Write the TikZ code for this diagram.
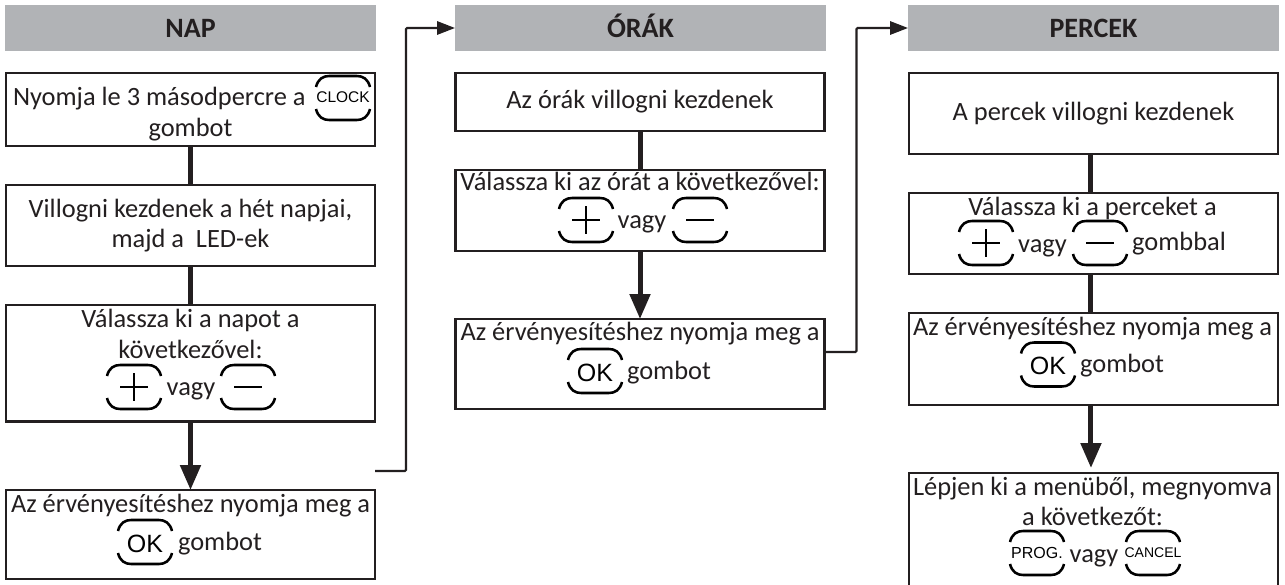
\documentclass[tikz,border=0pt]{standalone}
\usepackage{fontspec}
\setmainfont{Carlito}
\newfontfamily\arialfont{Liberation Sans}
\usetikzlibrary{arrows.meta}
\definecolor{ink}{HTML}{231F20}
\definecolor{headgrey}{HTML}{B1B3B6}
\def\px{0.75pt}
\tikzset{
  hdr/.style={fill=headgrey,draw=none,inner sep=0pt,outer sep=0pt,minimum width=371*\px,minimum height=46*\px,text height=15pt,text depth=0pt,text=ink,font=\bfseries\fontsize{21pt}{25pt}\selectfont},
  boxn/.style={draw=ink,line width=1.8pt,fill=white,inner sep=0pt,outer sep=0pt,minimum width=369*\px,text=ink,align=center,font=\fontsize{19.8pt}{22.5pt}\selectfont},
  txt/.style={inner sep=0pt,outer sep=0pt,anchor=base,text=ink,font=\fontsize{19.8pt}{24pt}\selectfont},
  keylab/.style={inner sep=0pt,outer sep=0pt,anchor=base,text=black,font=\arialfont},
  thick link/.style={draw=ink,line width=3.75pt},
  thick arrow/.style={thick link,-{Triangle[length=18.75pt,width=15pt]}},
  thin arrow/.style={draw=ink,line width=1.6pt,rounded corners=0.8pt,-{Triangle[length=13.5pt,width=10pt]}},
  pics/btn/.style={code={
    \draw[black,line width=1.9pt]
      (-27,-11) .. controls (-25,-19) and (-20,-22) .. (-14,-22) -- (14,-22) .. controls (20,-22) and (25,-19) .. (27,-11);
    \draw[black,line width=1.9pt]
      (-27,11) .. controls (-25,19) and (-20,22) .. (-14,22) -- (14,22) .. controls (20,22) and (25,19) .. (27,11);
  }},
  pics/plusbtn/.style={code={
    \pic {btn};
    \draw[black,line width=1.5pt] (-14,0) -- (14,0) (0,-14) -- (0,14);
  }},
  pics/minusbtn/.style={code={
    \pic {btn};
    \draw[black,line width=1.5pt] (-14,0) -- (14,0);
  }}
}
\begin{document}
\begin{tikzpicture}[x=0.75pt,y=-0.75pt]
\useasboundingbox (0,0) rectangle (1285,585);
\fill[white] (0,0) rectangle (1285,585);

% headers
\node[hdr] (h1) at (190.5,28) {NAP};
\node[hdr] (h2) at (640.5,28) {ÓRÁK};
\node[hdr] (h3) at (1093.5,28) {PERCEK};

% boxes
\node[boxn,minimum height=73*\px] (b1) at (190.5,109.5) {};
\node[boxn,minimum height=81*\px] (b2) at (190.5,225.5) {Villogni kezdenek a hét napjai,\\majd a\ \ LED-ek};
\node[boxn,minimum height=116.5*\px] (b3) at (190.5,363.25) {};
\node[boxn,minimum height=89*\px] (b4) at (190.5,534.5) {};

\node[boxn,minimum height=58*\px] (o1) at (640,102) {Az órák villogni kezdenek};
\node[boxn,minimum height=81*\px] (o2) at (640,210.5) {};
\node[boxn,minimum height=90*\px] (o3) at (640,364) {};

\node[boxn,minimum height=81*\px] (p1) at (1093.5,113.5) {A percek villogni kezdenek};
\node[boxn,minimum height=81*\px] (p2) at (1093.5,233.5) {};
\node[boxn,minimum height=92*\px] (p3) at (1093.5,359) {};
\node[boxn,minimum height=127*\px] (p4) at (1093.5,536.5) {};

% connectors
\draw[thick link] (b1.south) -- (b2.north);
\draw[thick link] (b2.south) -- (b3.north);
\draw[thick arrow] (b3.south) -- (b4.north);
\draw[thick link] (o1.south) -- (o2.north);
\draw[thick arrow] (o2.south) -- (o3.north);
\draw[thick link] ([xshift=-1.9pt]p1.south) -- ([xshift=-1.9pt]p2.north);
\draw[thick link] ([xshift=-1.9pt]p2.south) -- ([xshift=-1.9pt]p3.north);
\draw[thick arrow] ([xshift=-1.9pt]p3.south) -- ([xshift=-1.9pt,yshift=3.75pt]p4.north);

\coordinate (nfree) at (375,471);
\coordinate (ostart) at (825,352);
\draw[thin arrow] (nfree) -- (406,471) -- (406,28) -- (h2.west);
\draw[thin arrow] (ostart) -- (856.5,352) -- (856.5,28) -- (h3.west);

% NAP texts
\node[txt,anchor=base west] (t1) at (13,105) {Nyomja le 3 másodpercre a};
\pic at (343,98) {btn};
\node[keylab,font=\arialfont\fontsize{11.6pt}{14pt}\selectfont] (k1) at (343,103) {CLOCK};
\node[txt] (t2) at (190.5,137) {gombot};
\node[txt] (t3) at (190.5,327) {Válassza ki a napot a};
\node[txt] (t4) at (190.5,358) {következővel:};
\pic at (134,387) {plusbtn};
\node[txt] (t5) at (191,395) {vagy};
\pic at (248,387) {minusbtn};
\node[txt] (t6) at (190.5,512) {Az érvényesítéshez nyomja meg a};
\pic at (145,542) {btn};
\node[keylab,font=\arialfont\fontsize{18.75pt}{22pt}\selectfont] (k2) at (145,552) {OK};
\node[txt] (t7) at (220,550) {gombot};

% ORAK texts
\node[txt] (t8) at (640,190) {Válassza ki az órát a következővel:};
\pic at (586,220) {plusbtn};
\node[txt] (t9) at (642,228) {vagy};
\pic at (700,220) {minusbtn};
\node[txt] (t10) at (640,340) {Az érvényesítéshez nyomja meg a};
\pic at (595,371) {btn};
\node[keylab,font=\arialfont\fontsize{18.75pt}{22pt}\selectfont] (k3) at (595,381) {OK};
\node[txt] (t11) at (669,379) {gombot};

% PERCEK texts
\node[txt] (t12) at (1092.5,215) {Válassza ki a perceket a};
\pic at (986,243) {plusbtn};
\node[txt] (t13) at (1042.5,252) {vagy};
\pic at (1100,243) {minusbtn};
\node[txt] (t14) at (1179,250) {gombbal};
\node[txt] (t15) at (1092.5,335) {Az érvényesítéshez nyomja meg a};
\pic at (1048,364.5) {btn};
\node[keylab,font=\arialfont\fontsize{18.75pt}{22pt}\selectfont] (k4) at (1048,374) {OK};
\node[txt] (t16) at (1122,372) {gombot};
\node[txt] (t17) at (1092.5,495) {Lépjen ki a menüből, megnyomva};
\node[txt] (t18) at (1092.5,525) {a következőt:};
\pic at (1037,553) {btn};
\node[keylab,font=\arialfont\fontsize{12pt}{14pt}\selectfont] (k5) at (1037,558) {PROG.};
\node[txt] (t19) at (1094,562) {vagy};
\pic at (1153,553) {btn};
\node[keylab,font=\arialfont\fontsize{10.5pt}{13pt}\selectfont] (k6) at (1153,557.5) {CANCEL};
\end{tikzpicture}
\end{document}
